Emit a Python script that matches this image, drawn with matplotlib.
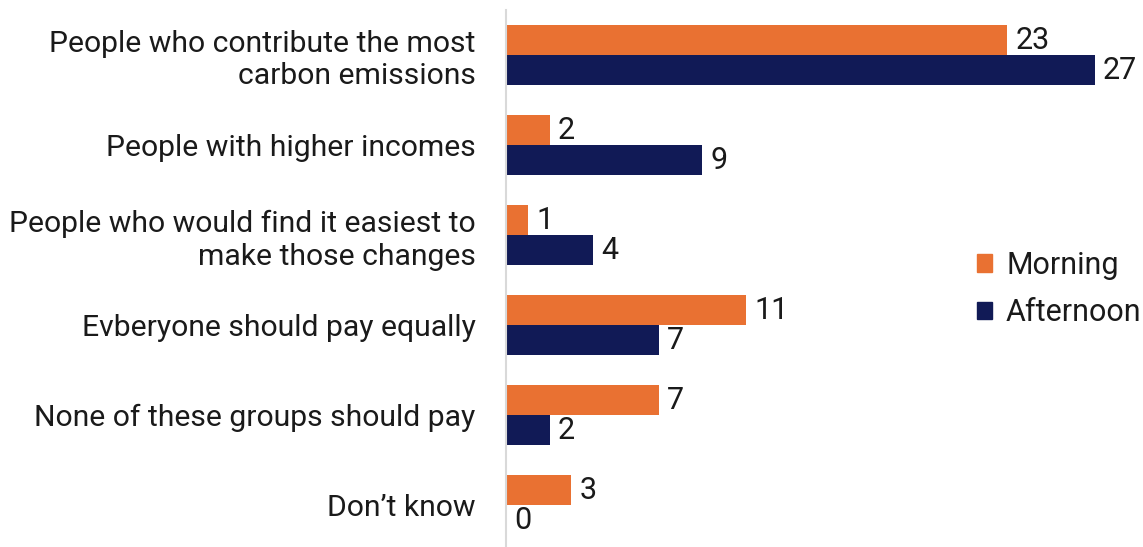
import matplotlib
matplotlib.use("Agg")
import matplotlib.pyplot as plt
import numpy as np
from matplotlib.patches import Patch

categories = ["People who contribute the most\ncarbon emissions",
              "People with higher incomes",
              "People who would find it easiest to\nmake those changes",
              "Evberyone should pay equally",
              "None of these groups should pay",
              "Don\u2019t know"]
morning = [23, 2, 1, 11, 7, 3]
afternoon = [27, 9, 4, 7, 2, 0]
series_names = ["Morning", "Afternoon"]
colors = ["#E97132", "#111A56"]

plt.rcParams['font.family'] = ['Roboto', 'DejaVu Sans']
fig = plt.figure(figsize=(11.43, 5.47), dpi=100)
ax = fig.add_axes([506/1143, 0, 1 - 506/1143, 1 - 10/547])

y = np.arange(len(categories))
h = 1/3
tc = "#1a1a1a"
fs = 21.7
b1 = ax.barh(y - h/2, morning, height=h, color=colors[0])
b2 = ax.barh(y + h/2, afternoon, height=h, color=colors[1])
for bars, vals in ((b1, morning), (b2, afternoon)):
    for r, v in zip(bars, vals):
        ax.annotate(str(v), (v, r.get_y() + r.get_height()/2), xytext=(6, -0.5),
                    textcoords="offset points", va="center", ha="left",
                    fontsize=22, color=tc)

ax.set_ylim((547-55)/90, -0.5)
ax.set_xlim(0, (1143-506)/21.8)
ax.set_yticks(y)
ax.set_yticklabels(categories, fontsize=fs, color=tc, linespacing=1.2)
ax.tick_params(axis='y', length=0, pad=22)
ax.set_xticks([])
for s in ("top", "right", "bottom"):
    ax.spines[s].set_visible(False)
ax.spines["left"].set_color("#d9d9d9")
ax.spines["left"].set_linewidth(1.5)

handles = [Patch(color=c, label=n) for c, n in zip(colors, series_names)]
fig.legend(handles=handles, loc="center left", bbox_to_anchor=(977/1143, 1 - 289/547),
           frameon=False, fontsize=22, handlelength=0.5, handleheight=0.5,
           handletextpad=0.45, labelspacing=0.6, labelcolor=tc,
           borderpad=0, borderaxespad=0)

fig.savefig("out.png", dpi=100)
